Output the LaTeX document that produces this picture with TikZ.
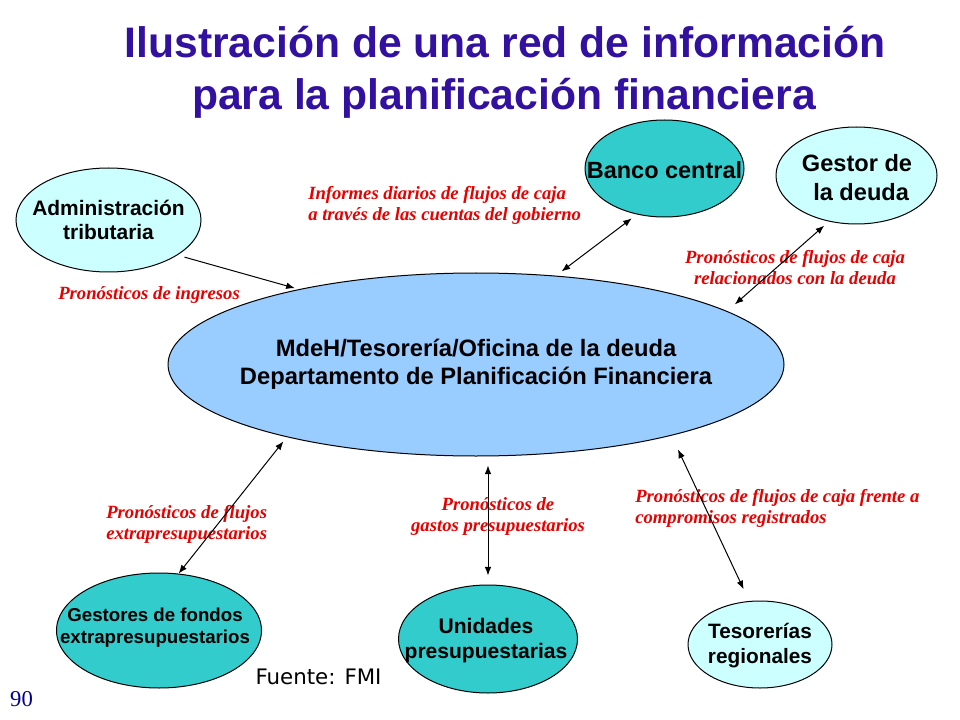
\documentclass[tikz,border=0pt]{standalone}
\usepackage{fontspec}
\setmainfont{Liberation Serif}
\newfontfamily\arialf{Liberation Sans}
\newfontfamily\dejaf{DejaVu Sans}
\usetikzlibrary{arrows.meta,shapes.geometric}
\definecolor{titleblue}{RGB}{51,17,160}
\definecolor{lcyan}{RGB}{204,255,255}
\definecolor{tealfill}{RGB}{51,204,204}
\definecolor{mainblue}{RGB}{153,204,255}
\definecolor{lblred}{RGB}{230,0,0}
\definecolor{numblue}{RGB}{0,0,150}
\begin{document}
\begin{tikzpicture}[x=0.75pt,y=-0.75pt,
  ell/.style={draw=black, line width=0.75pt, ellipse, inner sep=0pt},
  btxt/.style 2 args={font=\arialf\bfseries\fontsize{#1}{#2}\selectfont, align=center, inner sep=0pt},
  titletxt/.style={font=\arialf\bfseries\fontsize{32}{39}\selectfont, text=titleblue, inner sep=0pt},
  rtxt/.style={font=\fontsize{14}{15.75}\selectfont\bfseries\itshape, text=lblred, inner sep=0pt},
  arrone/.style={-{Latex[length=6.5pt,width=5pt]}, line width=0.75pt},
  arrtwo/.style={{Latex[length=6.5pt,width=5pt]}-{Latex[length=6.5pt,width=5pt]}, line width=0.75pt}
]
\fill[white] (0,0) rectangle (960,720);
\useasboundingbox (0,0) rectangle (960,720);

% title
\node[titletxt, anchor=base] (t1) at (505,58) {Ilustración de una red de información};
\node[titletxt, anchor=base] (t2) at (504,110) {para la planificación financiera};

% ellipses
\node[ell, fill=lcyan, minimum width=138.75pt, minimum height=78pt] (adm) at (108.5,220) {};
\node[ell, fill=tealfill, minimum width=119.25pt, minimum height=72.75pt] (bank) at (664.5,168.5) {};
\node[ell, fill=lcyan, minimum width=120.75pt, minimum height=72.75pt] (gest) at (856.5,175.5) {};
\node[ell, fill=mainblue, minimum width=462pt, minimum height=137.25pt] (main) at (476,364.5) {};
\node[ell, fill=tealfill, minimum width=153.75pt, minimum height=86.25pt] (fondos) at (159,630.5) {};
\node[ell, fill=tealfill, minimum width=134.25pt, minimum height=81pt] (uni) at (488,639) {};
\node[ell, fill=lcyan, minimum width=108pt, minimum height=65.25pt] (tes) at (760,644.5) {};

% ellipse texts
\node[btxt={15.7}{18}] (admtxt) at (adm.center) {Administración\\tributaria};
\node[btxt={17.6}{21}] (banktxt) at (664.5,170) {Banco central};
\node[btxt={17.7}{21.75}] (gesttxt) at (857,177.5) {Gestor de\\\hspace*{0.35em}la deuda};
\node[btxt={17.8}{21}] (maintxt) at (476,364) {MdeH/Tesorería/Oficina de la deuda\\Departamento de Planificación Financiera};
\node[btxt={14}{16.5}] (fondostxt) at (155,628) {Gestores de fondos\\extrapresupuestarios};
\node[btxt={15.8}{18.75}] (unitxt) at (486,640.5) {Unidades\\presupuestarias};
\node[btxt={15.6}{18.75}] (testxt) at (760,645.5) {Tesorerías\\regionales};

% red labels
\node[rtxt, anchor=west] (l1) at (58,295) {Pronósticos de ingresos};
\node[rtxt, anchor=west, align=left] (l2) at (308,205.5) {Informes diarios de flujos de caja\\a través de las cuentas del gobierno};
\node[rtxt, align=center] (l3) at (795,267.5) {Pronósticos de flujos de caja\\relacionados con la deuda};
\node[rtxt, anchor=west, align=left] (l4) at (106,524) {Pronósticos de flujos\\extrapresupuestarios};
\node[rtxt, align=center] (l5) at (498,516.5) {Pronósticos de\\gastos presupuestarios};
\node[rtxt, anchor=west, align=left] (l6) at (635,508.5) {Pronósticos de flujos de caja frente a\\compromisos registrados};

% arrows
\draw[arrone, shorten <=5.5pt, shorten >=3pt] (adm.-27) -- (main.157.7);
\draw[arrtwo, shorten <=4.8pt, shorten >=5.2pt] (bank.-121) -- (main.48);
\draw[arrtwo, shorten <=4.6pt, shorten >=7.6pt] (gest.-121.4) -- (main.12.6);
\draw[arrtwo, shorten <=4pt] (main.201.7) -- (fondos.71.6);
\draw[arrtwo, shorten <=6.75pt, shorten >=6.75pt] (uni.north |- main.south) -- (uni.north);
\draw[arrtwo, shorten <=11.4pt, shorten >=9.7pt] (main.-20.7) -- (tes.104.6);

% footer
\node[font=\dejaf\fontsize{16}{19}\selectfont, inner sep=0pt] (src) at (318.5,677) {Fuente: FMI};
\node[font=\fontsize{17}{20}\selectfont, text=numblue, inner sep=0pt] (pg) at (21.5,699) {90};
\end{tikzpicture}
\end{document}
